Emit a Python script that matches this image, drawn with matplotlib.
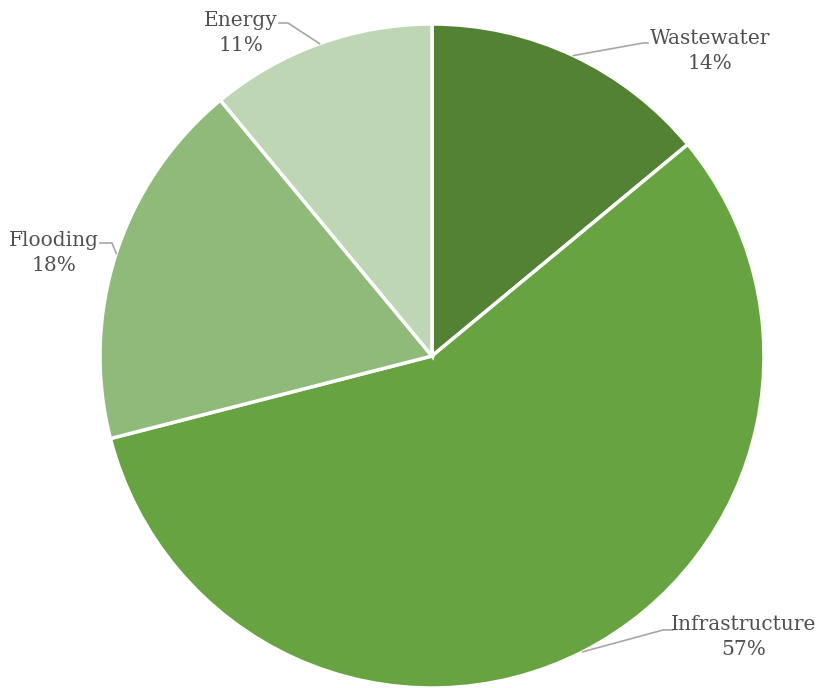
import numpy as np
import matplotlib
matplotlib.use("Agg")
import matplotlib.pyplot as plt

categories = ["Wastewater", "Infrastructure", "Flooding", "Energy"]
values = [14, 57, 18, 11]
colors = ["#548235", "#68a342", "#8fba7a", "#bfd6b5"]

W, H = 820, 688
CX, CY, R = 432, 356, 332

def px(x, y):
    return ((x - CX) / R, (CY - y) / R)

fig = plt.figure(figsize=(W / 100, H / 100), dpi=100)
ax = fig.add_axes([0, 0, 1, 1])

wedges, _ = ax.pie(values, colors=colors, startangle=90, counterclock=False,
                   radius=1, wedgeprops=dict(edgecolor="white", linewidth=2.5))

ax.set_aspect("equal", adjustable="box")
ax.set_xlim(px(0, 0)[0], px(W, 0)[0])
ax.set_ylim(px(0, H)[1], px(0, 0)[1])
ax.axis("off")

# label positions (pixel centers of text block) and elbow points
label_pos = {"Wastewater": (710, 51), "Infrastructure": (744, 637),
             "Flooding": (54, 253), "Energy": (241, 33)}
elbow = {"Wastewater": [(643, 43), (648, 43)],
         "Infrastructure": [(663, 630), (673, 630)],
         "Flooding": [(112, 243), (100, 243)],
         "Energy": [(288, 23), (279, 23)]}

for w, cat, v in zip(wedges, categories, values):
    ang = np.deg2rad((w.theta1 + w.theta2) / 2)
    x0, y0 = np.cos(ang), np.sin(ang)
    pts = [(x0, y0)] + [px(*p) for p in elbow[cat]]
    xs, ys = zip(*pts)
    ax.plot(xs, ys, color="#a6a6a6", lw=1.2, zorder=3, clip_on=False)
    tx, ty = px(*label_pos[cat])
    ax.text(tx, ty, f"{cat}\n{v}%", ha="center", va="center",
            fontsize=14.5, family="DejaVu Serif", color="#505050", linespacing=1.45)

fig.savefig("out.png", dpi=100)
